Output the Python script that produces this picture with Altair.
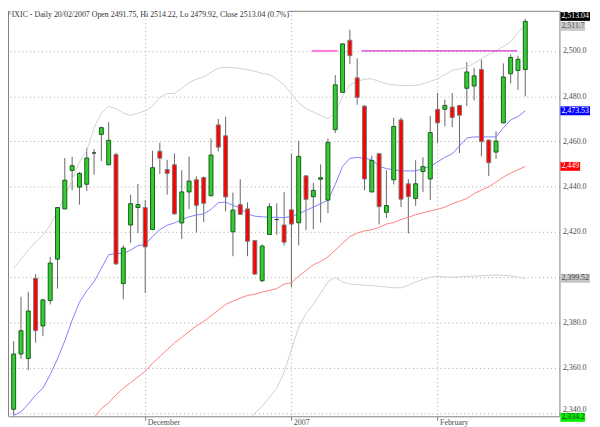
import altair as alt
import pandas as pd

# ---------------- data ----------------
opens = [2341.7, 2366.1, 2364.1, 2399.5, 2378.5, 2389.7, 2408.0, 2430.2, 2447.2, 2439.8,
         2441.1, 2454.9, 2463.1, 2449.7, 2454.2, 2397.2, 2423.1, 2430.8, 2430.8, 2421.1,
         2455.7, 2447.6, 2449.7, 2424.0, 2437.7, 2443.1, 2444.1, 2436.0, 2467.3, 2462.5,
         2420.1, 2432.1, 2430.2, 2416.2, 2398.5, 2418.9, 2425.5, 2423.1, 2429.8, 2424.1,
         2444.8, 2435.6, 2443.3, 2434.1, 2465.2, 2481.7, 2504.7, 2488.1, 2475.6, 2437.7,
         2454.6, 2428.7, 2443.1, 2469.5, 2441.3, 2434.8, 2446.7, 2443.4, 2474.2, 2474.2,
         2475.2, 2475.9, 2483.5, 2484.5, 2491.8, 2460.6, 2455.3, 2468.2, 2489.9, 2491.4,
         2491.75]
highs = [2371.8, 2391.4, 2393.6, 2401.4, 2390.5, 2409.0, 2431.0, 2452.7, 2453.2, 2446.5,
         2457.0, 2456.6, 2466.5, 2468.5, 2455.0, 2414.1, 2436.5, 2441.2, 2434.1, 2455.9,
         2459.4, 2451.9, 2454.7, 2447.3, 2453.3, 2444.6, 2444.5, 2461.3, 2469.9, 2470.9,
         2437.4, 2443.3, 2433.1, 2416.5, 2414.5, 2432.7, 2432.7, 2437.6, 2454.6, 2460.3,
         2445.0, 2441.7, 2449.9, 2461.3, 2489.3, 2503.5, 2509.3, 2496.7, 2476.0, 2453.7,
         2454.8, 2447.3, 2470.5, 2470.5, 2443.4, 2451.7, 2453.0, 2471.3, 2481.4, 2478.5,
         2481.4, 2476.1, 2495.0, 2492.4, 2496.1, 2460.8, 2464.5, 2494.5, 2498.5, 2497.9,
         2514.22]
lows = [2339.0, 2364.0, 2358.9, 2371.1, 2374.0, 2388.0, 2395.0, 2430.0, 2438.4, 2432.1,
        2438.1, 2445.3, 2451.3, 2449.5, 2405.5, 2390.3, 2415.2, 2419.5, 2393.1, 2420.8,
        2445.6, 2436.5, 2427.8, 2416.9, 2430.1, 2419.8, 2424.4, 2435.8, 2455.6, 2429.1,
        2409.3, 2427.5, 2409.3, 2401.0, 2397.8, 2418.8, 2418.8, 2414.0, 2395.7, 2414.1,
        2420.8, 2421.2, 2424.1, 2428.4, 2463.7, 2481.5, 2494.2, 2476.2, 2438.4, 2437.5,
        2423.4, 2426.2, 2441.0, 2431.0, 2419.3, 2431.5, 2437.7, 2434.1, 2459.2, 2466.7,
        2466.3, 2454.9, 2475.6, 2478.1, 2453.4, 2444.8, 2452.4, 2468.0, 2485.6, 2482.8,
        2479.92]
closes = [2366.1, 2376.4, 2385.1, 2376.4, 2390.0, 2406.3, 2430.8, 2442.9, 2449.3, 2445.9,
          2452.7, 2454.9, 2466.1, 2460.5, 2405.9, 2412.9, 2432.5, 2432.1, 2413.4, 2448.4,
          2452.6, 2445.9, 2428.0, 2437.7, 2442.5, 2431.8, 2432.7, 2454.0, 2457.5, 2435.5,
          2429.7, 2427.8, 2415.9, 2401.4, 2413.8, 2431.2, 2425.5, 2415.5, 2423.5, 2453.4,
          2434.4, 2438.4, 2444.0, 2459.6, 2485.0, 2503.1, 2497.9, 2479.5, 2443.4, 2451.6,
          2431.2, 2431.7, 2466.6, 2434.5, 2435.6, 2441.3, 2448.9, 2463.9, 2468.2, 2475.9,
          2470.6, 2471.6, 2490.7, 2489.0, 2459.9, 2450.6, 2460.2, 2488.5, 2497.1, 2496.3,
          2513.04]

blue_ma = [2339, 2340.5, 2344, 2348, 2351, 2357, 2364, 2372, 2381, 2389,
           2394, 2398, 2404, 2410, 2410.5, 2410.5, 2412, 2414, 2414.5, 2418,
           2421, 2423, 2424, 2425.5, 2426.7, 2427.5, 2428, 2430, 2433, 2433.2,
           2431.8, 2430.6, 2428, 2427, 2426.7, 2426.5, 2426.5, 2426.3, 2427, 2428,
           2429.5, 2431, 2432.5, 2434, 2441, 2449, 2452.5, 2453, 2452.5, 2452,
           2449, 2448, 2447.5, 2447, 2447, 2447, 2448, 2449, 2451, 2453,
           2454.5, 2458, 2461.5, 2462, 2462, 2462, 2462, 2466, 2469.5, 2471, 2473.53]

red_start = 11
red_ma = [2338, 2342, 2344.5, 2348, 2351, 2353.5, 2356, 2358.5, 2362,
          2365, 2368, 2371, 2373.5, 2376, 2378.5, 2380.5, 2383, 2385.5, 2388,
          2389.5, 2390.8, 2392, 2392.5, 2393.5, 2394.2, 2395, 2397, 2397.5, 2400.5,
          2403, 2405.5, 2407, 2409, 2412, 2415, 2418, 2419.5, 2420.5, 2421,
          2422, 2423.5, 2424.2, 2425.5, 2426.5, 2427.6, 2428.5, 2429.3, 2430, 2431,
          2432.5, 2433.6, 2434.8, 2437, 2438.5, 2440, 2442, 2444.3, 2446, 2447.5, 2449]

upper_band = [2404, 2408, 2412, 2415.5, 2418.5, 2423, 2429, 2436, 2443, 2451,
              2456, 2466, 2472.5, 2475.5, 2474.5, 2472.5, 2471.5, 2472.5, 2473.5, 2475.5,
              2479.5, 2481.2, 2481.2, 2483.5, 2486, 2487.5, 2488.5, 2490.5, 2492.4, 2492.8,
              2492.6, 2492.2, 2491.7, 2491, 2490, 2489.5, 2487.5, 2485, 2481, 2477,
              2474.5, 2473, 2471.5, 2470, 2472.6, 2480, 2485, 2486.5, 2487.5, 2487.7,
              2486.5, 2485.5, 2485, 2484.7, 2484.7, 2484.7, 2485.5, 2486.5, 2487.7, 2489.5,
              2491.5, 2492, 2492.8, 2494.5, 2496.5, 2498.4, 2500, 2502, 2504, 2508, 2511.7]

lower_start = 32
lower_band = [2336, 2340, 2343, 2347, 2351, 2358, 2368, 2378, 2384, 2388,
              2393, 2398, 2400, 2398, 2397, 2396.8, 2396.5, 2396.3, 2396, 2395.7,
              2395.4, 2395.3, 2396.5, 2398, 2399, 2400, 2400.4, 2400.2, 2400, 2400.2,
              2400.4, 2400.5, 2400.7, 2400.9, 2401, 2400.9, 2400.6, 2400.1, 2399.52]

month_ticks = [18, 38, 58]
month_labels = ["December", "2007", "February"]
y_ticks = [2340, 2360, 2380, 2400, 2420, 2440, 2460, 2480, 2500]
y_hidden = [2400]          # label covered by the 2,399.52 tag in the reference
y_raised = [2340]          # label partly covered by the 2,334.2 tag

level_value = 2500
level_start = [40.8, 47.6]
level_end = [44.3, 68.9]
level_colors = ["#ff77dd", "#cc00cc"]
level_widths = [2, 1]

tag_values = [2513.04, 2511.7, 2473.53, 2449.0, 2399.52, 2334.2]
tag_texts = ["2,513.04", "2,511.7", "2,473.53", "2,449", "2,399.52", "2,334.2"]
tag_bg = ["#000000", "#c8c8c8", "#0000ff", "#ff0000", "#c8c8c8", "#00ee00"]
tag_fg = ["#ffffff", "#555555", "#ffffff", "#ffffff", "#444444", "#333333"]
tag_w = [30, 25, 30, 20, 30, 25]
tag_dy = [-5, 2, 0, 0, 0, -9]

title_text = "^IXIC - Daily 20/02/2007 Open 2491.75, Hi 2514.22, Lo 2479.92, Close 2513.04 (0.7%)"

# ---------------- build ----------------
W, H = 559, 411
FONT = "Liberation Serif"

n = len(opens)
candles = pd.DataFrame({
    "i": list(range(n)), "o": opens, "h": highs, "l": lows, "c": closes,
})
candles["b0"] = candles[["o", "c"]].min(axis=1)
candles["b1"] = candles[["o", "c"]].max(axis=1)
candles["dir"] = ["up" if c > o else ("down" if c < o else "flat") for o, c in zip(opens, closes)]

xs = alt.Scale(domain=[-0.1, 74], nice=False, zero=False)
ys = alt.Scale(domain=[2338.6, 2517.7], nice=False, zero=False)

x_label_expr = " : ".join(
    f"datum.value == {t} ? '{lab}'" for t, lab in zip(month_ticks, month_labels)
) + " : ''"
hidden_test = " || ".join(f"datum.value == {v}" for v in y_hidden)
raised_test = " || ".join(f"datum.value == {v}" for v in y_raised)
y_label_expr = f"({hidden_test}) ? '' : format(datum.value, ',.1f')"

x_axis = alt.Axis(values=month_ticks, labelExpr=x_label_expr, grid=True, gridDash=[1, 3],
                  gridColor="#aaaaaa", domainColor="#808080", tickColor="#808080",
                  tickSize=4, labelAlign="left", labelOffset=2, labelPadding=-2,
                  labelBaseline="top", labelFlush=False, labelFont=FONT, labelFontSize=8,
                  labelColor="#4d4d4d", title=None)
y_axis = alt.Axis(orient="right", values=y_ticks, labelExpr=y_label_expr, grid=True,
                  gridDash=[1, 3], gridColor="#aaaaaa", domainColor="#808080", ticks=False,
                  labelPadding=3, labelFlush=False,
                  labelBaseline={"expr": f"({raised_test}) ? 'bottom' : 'middle'"},
                  labelFont=FONT, labelFontSize=8, labelColor="#4d4d4d", title=None)


def X(field):
    return alt.X(field, type="quantitative", scale=xs, axis=x_axis)


def Y(field):
    return alt.Y(field, type="quantitative", scale=ys, axis=y_axis)


wicks = alt.Chart(candles).mark_rule(color="#666666", strokeWidth=1).encode(
    x=X("i"), y=Y("l"), y2="h:Q",
)

bodies = alt.Chart(candles).mark_bar(size=4, strokeWidth=1).encode(
    x=X("i"), y=Y("b0"), y2="b1:Q",
    fill=alt.Fill("dir:N", scale=alt.Scale(domain=["up", "down", "flat"],
                                           range=["#33cc33", "#ff0000", "#333333"]), legend=None),
    stroke=alt.Stroke("dir:N", scale=alt.Scale(domain=["up", "down", "flat"],
                                               range=["#1a5c1a", "#7a7a7a", "#333333"]), legend=None),
)


def line_layer(values, start, color):
    df = pd.DataFrame({"i": list(range(start, start + len(values))), "v": values})
    return alt.Chart(df).mark_line(color=color, strokeWidth=1, clip=True).encode(
        x=X("i"), y=Y("v"),
    )


lines = [
    line_layer(upper_band, 0, "#d0d0d0"),
    line_layer(lower_band, lower_start, "#d0d0d0"),
    line_layer(red_ma, red_start, "#ff8080"),
    line_layer(blue_ma, 0, "#8080ff"),
]

levels = []
for s, e, col, sw in zip(level_start, level_end, level_colors, level_widths):
    df = pd.DataFrame({"i": [s], "e": [e], "v": [level_value]})
    levels.append(alt.Chart(df).mark_rule(color=col, strokeWidth=sw).encode(
        x=X("i"), x2="e:Q", y=Y("v")))

one = pd.DataFrame({"k": [0]})
frame_left = alt.Chart(one).mark_rule(color="#808080", strokeWidth=1).encode(
    x=alt.value(0.5), y=alt.value(0), y2=alt.value(H))
frame_top = alt.Chart(one).mark_rule(color="#808080", strokeWidth=1).encode(
    x=alt.value(284), x2=alt.value(W), y=alt.value(0.5))
title = alt.Chart(one).mark_text(align="left", baseline="middle", font=FONT, fontSize=8,
                                 color="#333333").encode(
    x=alt.value(0), y=alt.value(4), text=alt.value(title_text))

tags = []
for v, t, bg, fg, w, dy in zip(tag_values, tag_texts, tag_bg, tag_fg, tag_w, tag_dy):
    df = pd.DataFrame({"v": [v], "t": [t]})
    tags.append(alt.Chart(df).mark_tick(orient="horizontal", size=w, thickness=9,
                                        color=bg, opacity=1, yOffset=dy).encode(
        x=alt.value(W + 1 + w / 2), y=Y("v")))
    tags.append(alt.Chart(df).mark_text(align="left", baseline="middle", font=FONT,
                                        fontSize=8, color=fg, dy=dy).encode(
        x=alt.value(W + 2), y=Y("v"), text="t:N"))

chart = alt.layer(
    wicks, *lines, *levels, bodies, frame_left, frame_top, title, *tags
).properties(
    width=W, height=H,
    autosize=alt.AutoSizeParams(type="none"),
    padding={"left": 0, "top": 0, "right": 33, "bottom": 8},
    background="white",
).configure_view(stroke=None)

chart.save("out.html", embed_options={"renderer": "svg", "actions": False})
